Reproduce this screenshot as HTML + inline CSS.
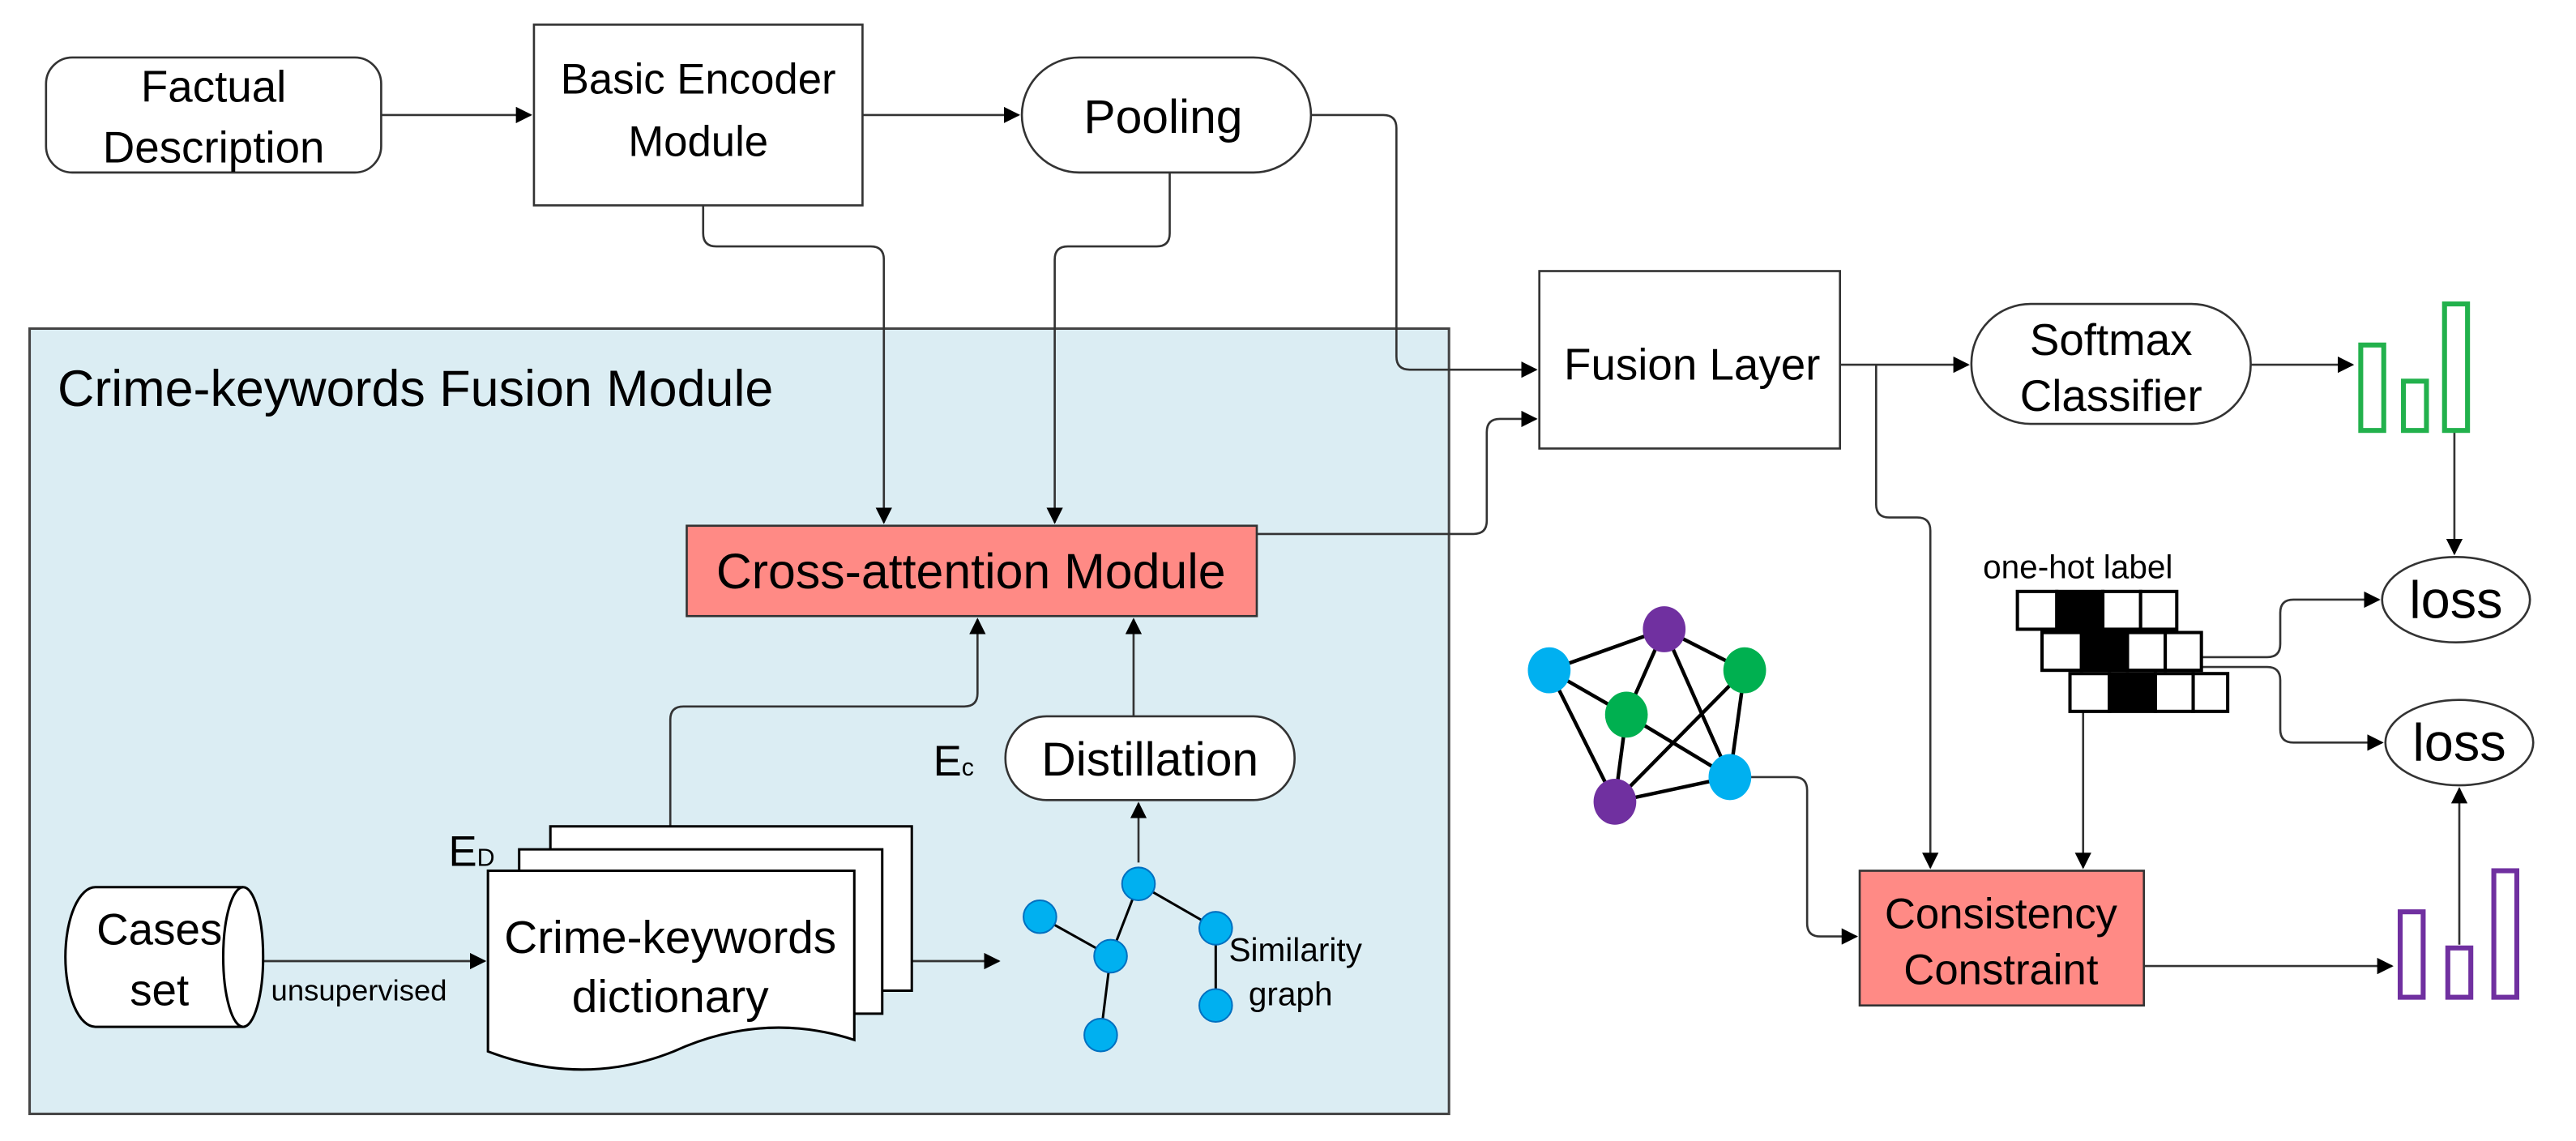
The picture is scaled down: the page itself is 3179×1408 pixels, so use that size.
<!DOCTYPE html>
<html><head><meta charset="utf-8"><style>html,body{margin:0;padding:0;background:#fff}svg{display:block}text{font-family:"Liberation Sans",sans-serif;fill:#000}</style></head>
<body>
<svg width="3179" height="1408" viewBox="0 0 1568 694.5" xmlns="http://www.w3.org/2000/svg">
<defs><marker id="a" markerWidth="10" markerHeight="10" refX="9" refY="5" orient="auto" markerUnits="userSpaceOnUse"><path d="M0,0 L10,5 L0,10 z" fill="#000"/></marker></defs>
<g stroke="#333" stroke-width="1.3" fill="none">
<rect x="18" y="200" width="864" height="478" fill="#dbedf3" stroke="#444" stroke-width="1.5"/>
<rect x="28" y="35" width="204" height="70" rx="16" fill="#fff"/>
<rect x="325" y="15" width="200" height="110" fill="#fff"/>
<rect x="622" y="35" width="176" height="70" rx="35" fill="#fff"/>
<rect x="418" y="320" width="347" height="55" fill="#ff8a85"/>
<rect x="937" y="165" width="183" height="108" fill="#fff"/>
<rect x="1200" y="185" width="170" height="73" rx="36" fill="#fff"/>
<rect x="1132" y="530" width="173" height="82" fill="#ff8a85"/>
<rect x="612" y="436" width="176" height="51" rx="25" fill="#fff"/>
<ellipse cx="1495" cy="365" rx="45" ry="26" fill="#fff"/>
<ellipse cx="1497" cy="452" rx="45" ry="26" fill="#fff"/>
<path d="M232,70 H323" marker-end="url(#a)"/>
<path d="M525,70 H620" marker-end="url(#a)"/>
<path d="M428,125 V142 q0,8 8,8 H530 q8,0 8,8 V318" marker-end="url(#a)"/>
<path d="M712,105 V142 q0,8 -8,8 H650 q-8,0 -8,8 V318" marker-end="url(#a)"/>
<path d="M798,70 H842 q8,0 8,8 V217 q0,8 8,8 H935" marker-end="url(#a)"/>
<path d="M765,325 H897 q8,0 8,-8 V263 q0,-8 8,-8 H935" marker-end="url(#a)"/>
<path d="M1120,222 H1198" marker-end="url(#a)"/>
<path d="M1142,222 V307 q0,8 8,8 H1167 q8,0 8,8 V528" marker-end="url(#a)"/>
<path d="M1370,222 H1432" marker-end="url(#a)"/>
<path d="M1494,262 V337" marker-end="url(#a)"/>
<path d="M1340,400 H1380 q8,0 8,-8 V373 q0,-8 8,-8 H1448" marker-end="url(#a)"/>
<path d="M1340,406 H1380 q8,0 8,8 V444 q0,8 8,8 H1450" marker-end="url(#a)"/>
<path d="M1268,433 V528" marker-end="url(#a)"/>
<path d="M1305,588 H1456" marker-end="url(#a)"/>
<path d="M1497,575 V480" marker-end="url(#a)"/>
<path d="M1053,473 H1092 q8,0 8,8 V562 q0,8 8,8 H1130" marker-end="url(#a)"/>
<path d="M690,436 V377" marker-end="url(#a)"/>
<path d="M693,525 V489" marker-end="url(#a)"/>
<path d="M408,520 V438 q0,-8 8,-8 H587 q8,0 8,-8 V377" marker-end="url(#a)"/>
<path d="M160,585 H295" marker-end="url(#a)"/>
<path d="M550,585 H608" marker-end="url(#a)"/>
</g>
<g fill="#fff" stroke="#22b14c" stroke-width="3"><rect x="1437" y="210" width="14" height="52"/><rect x="1463" y="232" width="14" height="30"/><rect x="1488" y="185" width="14" height="77"/></g>
<g fill="#fff" stroke="#7030a0" stroke-width="3"><rect x="1461" y="555" width="14" height="52"/><rect x="1490" y="577" width="14" height="30"/><rect x="1518" y="530" width="14" height="77"/></g>
<g stroke="#000" stroke-width="2">
<rect x="1228" y="360" width="24" height="23" fill="#fff"/><rect x="1252" y="360" width="28" height="23" fill="#000"/><rect x="1280" y="360" width="23" height="23" fill="#fff"/><rect x="1303" y="360" width="22" height="23" fill="#fff"/>
<rect x="1243" y="385" width="24" height="23" fill="#fff"/><rect x="1267" y="385" width="28" height="23" fill="#000"/><rect x="1295" y="385" width="23" height="23" fill="#fff"/><rect x="1318" y="385" width="22" height="23" fill="#fff"/>
<rect x="1260" y="410" width="24" height="23" fill="#fff"/><rect x="1284" y="410" width="28" height="23" fill="#000"/><rect x="1312" y="410" width="23" height="23" fill="#fff"/><rect x="1335" y="410" width="21" height="23" fill="#fff"/>
</g>
<g stroke="#000" stroke-width="2.2">
<line x1="943" y1="408" x2="1013" y2="383"/><line x1="943" y1="408" x2="990" y2="435"/><line x1="943" y1="408" x2="983" y2="488"/>
<line x1="1013" y1="383" x2="1062" y2="408"/><line x1="1013" y1="383" x2="990" y2="435"/><line x1="1013" y1="383" x2="1053" y2="473"/>
<line x1="1062" y1="408" x2="1053" y2="473"/><line x1="1062" y1="408" x2="983" y2="488"/><line x1="990" y1="435" x2="983" y2="488"/>
<line x1="990" y1="435" x2="1053" y2="473"/><line x1="983" y1="488" x2="1053" y2="473"/>
</g>
<ellipse cx="943" cy="408" rx="13" ry="14" fill="#00b0f0"/><ellipse cx="1013" cy="383" rx="13" ry="14" fill="#7030a0"/><ellipse cx="1062" cy="408" rx="13" ry="14" fill="#00b050"/><ellipse cx="990" cy="435" rx="13" ry="14" fill="#00b050"/><ellipse cx="983" cy="488" rx="13" ry="14" fill="#7030a0"/><ellipse cx="1053" cy="473" rx="13" ry="14" fill="#00b0f0"/>
<g stroke="#000" stroke-width="1.5"><line x1="633" y1="558" x2="676" y2="582"/><line x1="693" y1="538" x2="676" y2="582"/><line x1="693" y1="538" x2="740" y2="565"/><line x1="676" y1="582" x2="670" y2="630"/><line x1="740" y1="565" x2="740" y2="612"/></g>
<g fill="#00b0f0" stroke="#0070c0" stroke-width="1"><circle cx="633" cy="558" r="10"/><circle cx="693" cy="538" r="10"/><circle cx="676" cy="582" r="10"/><circle cx="740" cy="565" r="10"/><circle cx="740" cy="612" r="10"/><circle cx="670" cy="630" r="10"/></g>
<g stroke="#000" stroke-width="1.5" fill="#fff">
<path d="M335,503 H555 V603 H335 z"/>
<path d="M316,517 H537 V617 H316 z"/>
<path d="M297,530 H520 V633 Q465,615 410,640 Q355,662 297,640 z"/>
</g>
<path d="M58,540 H148 A12,42 0 0 1 148,625 H58 A18,42 0 0 1 58,540 z" fill="#fff" stroke="#000" stroke-width="1.5"/>
<path d="M148,540 A12,42 0 0 0 148,625" fill="none" stroke="#000" stroke-width="1.5"/>
<g text-anchor="middle">
<text x="130" y="62" font-size="27">Factual</text><text x="130" y="99" font-size="27">Description</text>
<text x="425" y="57" font-size="26">Basic Encoder</text><text x="425" y="95" font-size="26">Module</text>
<text x="708" y="81" font-size="29">Pooling</text>
<text x="591" y="358" font-size="30">Cross-attention Module</text>
<text x="1030" y="231" font-size="27">Fusion Layer</text>
<text x="1285" y="216" font-size="27">Softmax</text><text x="1285" y="250" font-size="27">Classifier</text>
<text x="1218" y="565" font-size="26">Consistency</text><text x="1218" y="599" font-size="26">Constraint</text>
<text x="700" y="472" font-size="29">Distillation</text>
<text x="1495" y="376" font-size="32">loss</text><text x="1497" y="463" font-size="32">loss</text>
<text x="408" y="580" font-size="28">Crime-keywords</text><text x="408" y="616" font-size="28">dictionary</text>
<text x="97" y="575" font-size="27">Cases</text><text x="97" y="612" font-size="27">set</text>
</g>
<text x="35" y="247" font-size="31">Crime-keywords Fusion Module</text>
<text x="1207" y="352" font-size="20">one-hot label</text>
<text x="568" y="472" font-size="26">E<tspan font-size="15">c</tspan></text>
<text x="273" y="527" font-size="26">E<tspan font-size="15">D</tspan></text>
<text x="165" y="609" font-size="18">unsupervised</text>
<text x="748" y="585" font-size="20">Similarity</text><text x="760" y="612" font-size="20">graph</text>
</svg>
</body></html>
